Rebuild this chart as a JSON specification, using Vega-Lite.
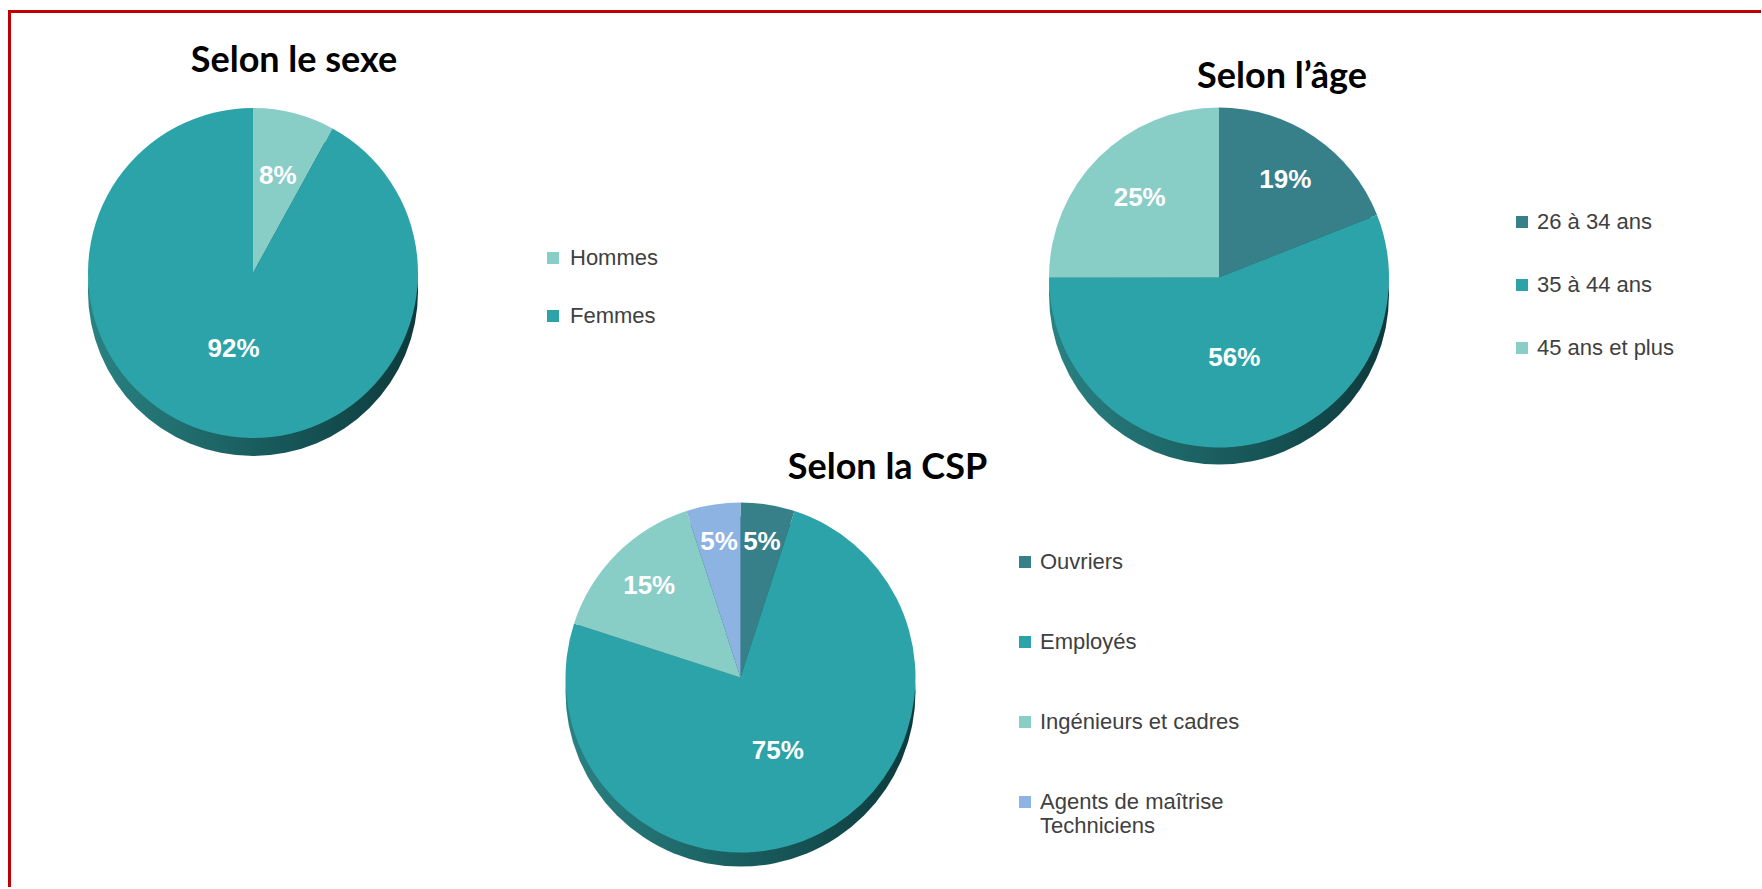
{
  "$schema": "https://vega.github.io/schema/vega-lite/v6.json",
  "background": "white",
  "padding": {"left": 8, "top": 10, "right": 0, "bottom": 0},
  "autosize": {"type": "pad"},
  "config": {"view": {"stroke": null}},
  "datasets": {
    "sexe": [
      {"categorie": "Hommes", "part": 0.08, "ordre": 1},
      {"categorie": "Femmes", "part": 0.92, "ordre": 2}
    ],
    "age": [
      {"categorie": "26 à 34 ans", "part": 0.19, "ordre": 1},
      {"categorie": "35 à 44 ans", "part": 0.56, "ordre": 2},
      {"categorie": "45 ans et plus", "part": 0.25, "ordre": 3}
    ],
    "csp": [
      {"categorie": "Ouvriers", "part": 0.05, "ordre": 1},
      {"categorie": "Employés", "part": 0.75, "ordre": 2},
      {"categorie": "Ingénieurs et cadres", "part": 0.15, "ordre": 3},
      {"categorie": "Agents de maîtrise Techniciens", "part": 0.05, "ordre": 4}
    ]
  },
  "spacing": 0,
  "bounds": "flush",
  "resolve": {"scale": {"color": "independent", "theta": "independent", "radius": "independent"}, "legend": {"color": "independent"}},
  "hconcat": [
    {
      "data": {"values": []},
      "mark": "point",
      "encoding": {},
      "width": 1,
      "height": 875,
      "view": {"stroke": "#C00000", "strokeWidth": 2}
    },
    {
      "spacing": 80,
      "bounds": "flush",
      "resolve": {"scale": {"color": "independent", "theta": "independent", "radius": "independent"}, "legend": {"color": "independent"}},
      "vconcat": [
        {
          "data": {"values": []},
          "mark": "point",
          "encoding": {},
          "width": 1750,
          "height": 1,
          "view": {"stroke": "#C00000", "strokeWidth": 2}
        },
        {
          "spacing": 418,
          "bounds": "flush",
          "resolve": {"scale": {"color": "independent", "theta": "independent", "radius": "independent"}, "legend": {"color": "independent"}},
          "vconcat": [
            {
              "spacing": 543,
              "bounds": "flush",
              "resolve": {"scale": {"color": "independent", "theta": "independent", "radius": "independent"}, "legend": {"color": "independent"}},
              "hconcat": [
                {
                  "data": {"name": "sexe"},
                  "width": 486,
                  "height": 362,
                  "title": {"text": "Selon le sexe", "font": "Lato", "fontSize": 36, "fontWeight": "bold", "color": "#000000", "anchor": "middle", "frame": "group", "dx": 41, "offset": 12},
                  "layer": [
                    {
                      "mark": {"type": "arc", "radius": 165, "yOffset": 18, "color": {"gradient": "linear", "x1": 0, "x2": 1, "y1": 0, "y2": 0, "stops": [{"offset": 0, "color": "#2a8283"}, {"offset": 0.5, "color": "#1a5d5f"}, {"offset": 1, "color": "#0d3a3c"}]}},
                      "encoding": {"theta": {"aggregate": "sum", "field": "part", "type": "quantitative"}}
                    },
                    {
                      "mark": {"type": "arc", "radius": 165},
                      "encoding": {
                        "theta": {"field": "part", "type": "quantitative", "stack": true},
                        "order": {"field": "ordre", "type": "quantitative"},
                        "color": {
                          "field": "categorie", "type": "nominal",
                          "scale": {"domain": ["Hommes", "Femmes"], "range": ["#89cdc7", "#2ca3a8"]},
                          "legend": {"title": null, "orient": "none", "direction": "vertical", "legendX": 532, "legendY": 155, "symbolType": "square", "symbolSize": 144, "symbolStrokeWidth": 0, "labelFont": "Liberation Sans", "labelFontSize": 22, "labelColor": "#404040", "rowPadding": 36, "labelOffset": 6}
                        }
                      }
                    },
                    {
                      "mark": {"type": "text", "font": "Liberation Sans", "fontWeight": "bold", "fontSize": 26, "color": "white"},
                      "encoding": {
                        "theta": {"field": "part", "type": "quantitative", "stack": true},
                        "radius": {"field": "part", "type": "quantitative", "scale": {"type": "linear", "zero": false, "domain": [0.08, 0.92], "range": [100, 78]}},
                        "order": {"field": "ordre", "type": "quantitative"},
                        "detail": {"field": "categorie", "type": "nominal"},
                        "text": {"field": "part", "type": "quantitative", "format": ".0%"}
                      }
                    }
                  ]
                },
                {
                  "data": {"name": "age"},
                  "width": 360,
                  "height": 371,
                  "title": {"text": "Selon l’âge", "font": "Lato", "fontSize": 36, "fontWeight": "bold", "color": "#000000", "anchor": "middle", "frame": "group", "dx": 63, "offset": -4},
                  "layer": [
                    {
                      "mark": {"type": "arc", "radius": 170, "yOffset": 17, "color": {"gradient": "linear", "x1": 0, "x2": 1, "y1": 0, "y2": 0, "stops": [{"offset": 0, "color": "#2a8283"}, {"offset": 0.5, "color": "#1a5d5f"}, {"offset": 1, "color": "#0d3a3c"}]}},
                      "encoding": {"theta": {"aggregate": "sum", "field": "part", "type": "quantitative"}}
                    },
                    {
                      "mark": {"type": "arc", "radius": 170},
                      "encoding": {
                        "theta": {"field": "part", "type": "quantitative", "stack": true},
                        "order": {"field": "ordre", "type": "quantitative"},
                        "color": {
                          "field": "categorie", "type": "nominal",
                          "scale": {"domain": ["26 à 34 ans", "35 à 44 ans", "45 ans et plus"], "range": ["#37808a", "#2ca3a8", "#89cdc7"]},
                          "legend": {"title": null, "orient": "none", "direction": "vertical", "legendX": 472, "legendY": 119, "symbolType": "square", "symbolSize": 144, "symbolStrokeWidth": 0, "labelFont": "Liberation Sans", "labelFontSize": 22, "labelColor": "#404040", "rowPadding": 41, "labelOffset": 4}
                        }
                      }
                    },
                    {
                      "mark": {"type": "text", "font": "Liberation Sans", "fontWeight": "bold", "fontSize": 26, "color": "white"},
                      "encoding": {
                        "theta": {"field": "part", "type": "quantitative", "stack": true},
                        "radius": {"field": "part", "type": "quantitative", "scale": {"type": "linear", "zero": false, "domain": [0.19, 0.56], "range": [118, 82]}},
                        "order": {"field": "ordre", "type": "quantitative"},
                        "detail": {"field": "categorie", "type": "nominal"},
                        "text": {"field": "part", "type": "quantitative", "format": ".0%"}
                      }
                    }
                  ]
                }
              ]
            },
            {
              "data": {"name": "csp"},
              "width": 1461,
              "height": 335,
              "title": {"text": "Selon la CSP", "font": "Lato", "fontSize": 36, "fontWeight": "bold", "color": "#000000", "anchor": "middle", "frame": "group", "dx": 147, "offset": 16},
              "layer": [
                {
                  "mark": {"type": "arc", "radius": 175, "yOffset": 14, "color": {"gradient": "linear", "x1": 0, "x2": 1, "y1": 0, "y2": 0, "stops": [{"offset": 0, "color": "#2a8283"}, {"offset": 0.5, "color": "#1a5d5f"}, {"offset": 1, "color": "#0d3a3c"}]}},
                  "encoding": {"theta": {"aggregate": "sum", "field": "part", "type": "quantitative"}}
                },
                {
                  "mark": {"type": "arc", "radius": 175},
                  "encoding": {
                    "theta": {"field": "part", "type": "quantitative", "stack": true},
                    "order": {"field": "ordre", "type": "quantitative"},
                    "color": {
                      "field": "categorie", "type": "nominal",
                      "scale": {"domain": ["Ouvriers", "Employés", "Ingénieurs et cadres", "Agents de maîtrise Techniciens"], "range": ["#37808a", "#2ca3a8", "#89cdc7", "#8db3e2"]},
                      "legend": {"title": null, "orient": "none", "direction": "vertical", "legendX": 1004, "legendY": 41, "symbolType": "square", "symbolSize": 144, "symbolStrokeWidth": 0, "labelFont": "Liberation Sans", "labelFontSize": 22, "labelColor": "#404040", "labelLimit": 400, "rowPadding": 58, "labelOffset": 4, "labelExpr": "datum.label == 'Agents de maîtrise Techniciens' ? ['Agents de maîtrise', 'Techniciens'] : datum.label"}
                    }
                  }
                },
                {
                  "mark": {"type": "text", "font": "Liberation Sans", "fontWeight": "bold", "fontSize": 26, "color": "white"},
                  "encoding": {
                    "theta": {"field": "part", "type": "quantitative", "stack": true},
                    "radius": {"field": "part", "type": "quantitative", "scale": {"type": "linear", "zero": false, "domain": [0.05, 0.75], "range": [137, 82]}},
                    "order": {"field": "ordre", "type": "quantitative"},
                    "detail": {"field": "categorie", "type": "nominal"},
                    "text": {"field": "part", "type": "quantitative", "format": ".0%"}
                  }
                }
              ]
            }
          ]
        }
      ]
    }
  ]
}
